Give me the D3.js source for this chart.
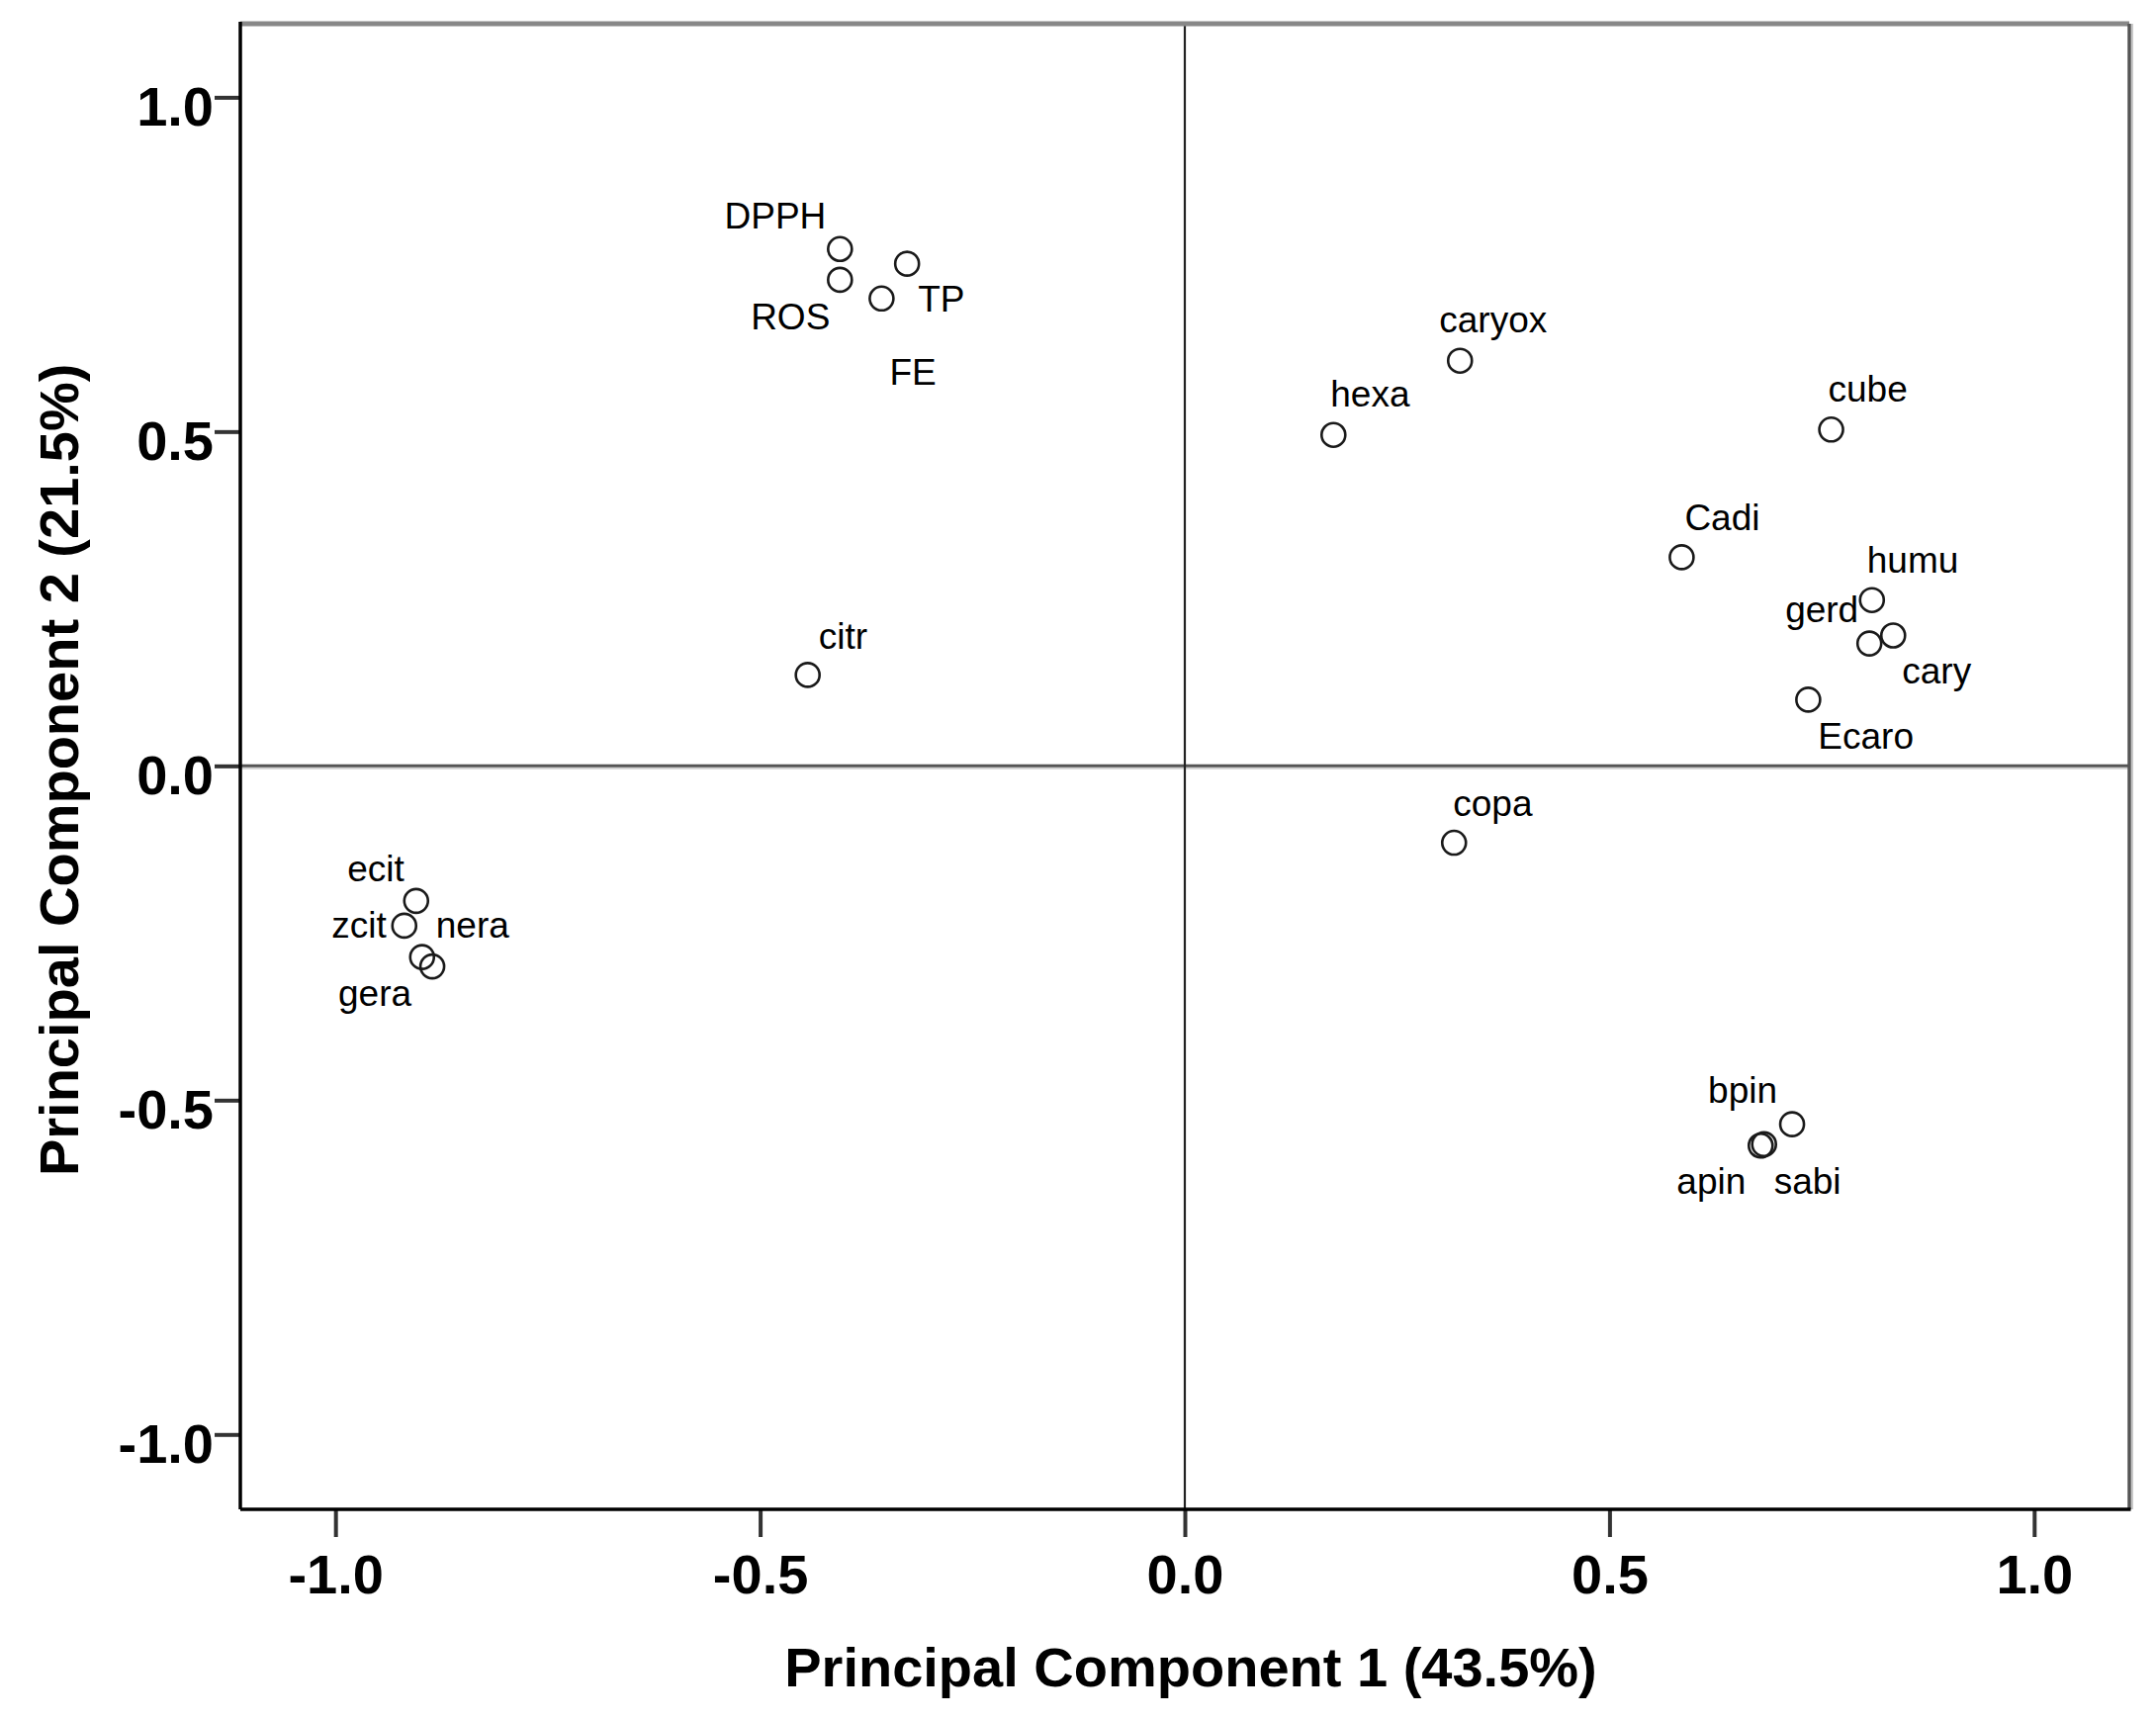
<!DOCTYPE html>
<html>
<head>
<meta charset="utf-8">
<script src="https://cdn.jsdelivr.net/npm/d3@7"></script>
<style>
  html, body { margin: 0; padding: 0; background: #fff; }
  svg { display: block; }
</style>
</head>
<body>
<div id="chart"></div>
<script>
// loadings
const variables = ["DPPH", "ROS", "TP", "FE", "citr", "ecit", "zcit", "nera", "gera",
  "caryox", "hexa", "cube", "Cadi", "humu", "gerd", "cary", "Ecaro", "copa", "bpin", "apin", "sabi"];
const pc1 = [-0.406, -0.406, -0.327, -0.357, -0.444, -0.905, -0.919, -0.898, -0.886,
  0.324, 0.175, 0.761, 0.585, 0.809, 0.806, 0.834, 0.734, 0.317, 0.715, 0.678, 0.682];
const pc2 = [0.773, 0.727, 0.751, 0.699, 0.136, -0.202, -0.239, -0.286, -0.300,
  0.606, 0.495, 0.503, 0.312, 0.248, 0.183, 0.195, 0.099, -0.115, -0.536, -0.568, -0.566];
const xTicks = [-1.0, -0.5, 0.0, 0.5, 1.0];
const yTicks = [-1.0, -0.5, 0.0, 0.5, 1.0];
const xTitle = "Principal Component 1 (43.5%)";
const yTitle = "Principal Component 2 (21.5%)";

// where each label sits relative to its point (anchor, dx, dy in px)
const labelPlacement = {
  DPPH: ["end", -14, -21], ROS: ["end", -10, 50], TP: ["start", 11, 48], FE: ["start", 8, 87],
  citr: ["start", 11, -26], ecit: ["end", -12, -20], zcit: ["end", -18, 12], nera: ["start", 14, -20],
  gera: ["end", -21, 40], caryox: ["start", -21, -29], hexa: ["start", -3, -29], cube: ["start", -3, -28],
  Cadi: ["start", 3, -27], humu: ["start", -5, -28], gerd: ["end", -11, -22], cary: ["start", 9, 48],
  Ecaro: ["start", 10, 50], copa: ["start", -1, -27], bpin: ["end", -15, -22], apin: ["end", -15, 49],
  sabi: ["start", 10, 50]
};

const W = 2180, H = 1739;
const plotLeft = 243, plotRight = 2153, plotTop = 24, plotBottom = 1526;
const font = "'Liberation Sans', Arial, sans-serif";

const svg = d3.select("#chart").append("svg")
  .attr("width", W)
  .attr("height", H)
  .style("background", "#fff");

const x = d3.scaleLinear().domain([-1.112, 1.112]).range([plotLeft, plotRight]);
const y = d3.scaleLinear().domain([-1.112, 1.11]).range([plotBottom, plotTop]);

const fmt = d => d.toFixed(1);

// axes
const xAxis = svg.append("g")
  .attr("transform", `translate(0,${plotBottom})`)
  .call(d3.axisBottom(x).tickValues(xTicks).tickFormat(fmt).tickSize(28).tickPadding(17));

const yAxis = svg.append("g")
  .attr("transform", `translate(${plotLeft},0)`)
  .call(d3.axisLeft(y).tickValues(yTicks).tickFormat(fmt).tickSize(26).tickPadding(1));

[xAxis, yAxis].forEach(g => {
  g.select(".domain").remove();
  g.selectAll(".tick line").attr("stroke", "#333").attr("stroke-width", 4);
  g.selectAll(".tick text")
    .attr("fill", "#000")
    .style("font-family", font)
    .style("font-weight", "bold")
    .style("font-size", "56px");
});
yAxis.selectAll(".tick text").attr("dy", 28);

// reference lines through the origin
svg.append("line")
  .attr("x1", plotLeft).attr("x2", plotRight)
  .attr("y1", y(0) + 2.5).attr("y2", y(0) + 2.5)
  .attr("stroke", "#cfcfcf").attr("stroke-width", 2);
svg.append("line")
  .attr("x1", plotLeft).attr("x2", plotRight)
  .attr("y1", y(0)).attr("y2", y(0))
  .attr("stroke", "#555").attr("stroke-width", 3);
svg.append("line")
  .attr("x1", x(0)).attr("x2", x(0))
  .attr("y1", plotTop).attr("y2", plotBottom)
  .attr("stroke", "#222").attr("stroke-width", 2.2);

// frame: dark left/bottom, grey top/right
svg.append("line")
  .attr("x1", plotLeft).attr("x2", plotRight).attr("y1", plotTop).attr("y2", plotTop)
  .attr("stroke", "#888").attr("stroke-width", 5);
svg.append("line")
  .attr("x1", plotRight).attr("x2", plotRight).attr("y1", plotTop).attr("y2", plotBottom)
  .attr("stroke", "#555").attr("stroke-width", 3.5);
svg.append("line")
  .attr("x1", plotRight + 3).attr("x2", plotRight + 3).attr("y1", plotTop).attr("y2", plotBottom)
  .attr("stroke", "#c8c8c8").attr("stroke-width", 2);
svg.append("line")
  .attr("x1", plotLeft).attr("x2", plotLeft).attr("y1", plotTop - 2).attr("y2", plotBottom)
  .attr("stroke", "#000").attr("stroke-width", 3.5);
svg.append("line")
  .attr("x1", plotLeft).attr("x2", plotRight + 1.5).attr("y1", plotBottom).attr("y2", plotBottom)
  .attr("stroke", "#000").attr("stroke-width", 3.5);

// points
const pts = variables.map((name, i) => ({ name, pc1: pc1[i], pc2: pc2[i] }));

svg.append("g").selectAll("circle")
  .data(pts)
  .enter().append("circle")
  .attr("cx", d => x(d.pc1))
  .attr("cy", d => y(d.pc2))
  .attr("r", 12)
  .attr("fill", "none")
  .attr("stroke", "#1a1a1a")
  .attr("stroke-width", 2.6);

svg.append("g").selectAll("text")
  .data(pts)
  .enter().append("text")
  .attr("x", d => x(d.pc1) + labelPlacement[d.name][1])
  .attr("y", d => y(d.pc2) + labelPlacement[d.name][2])
  .attr("text-anchor", d => labelPlacement[d.name][0])
  .style("font-family", font)
  .style("font-size", "37px")
  .attr("fill", "#000")
  .text(d => d.name);

// axis titles
svg.append("text")
  .attr("x", (plotLeft + plotRight) / 2 + 6)
  .attr("y", 1705)
  .attr("text-anchor", "middle")
  .style("font-family", font)
  .style("font-weight", "bold")
  .style("font-size", "56px")
  .text(xTitle);

svg.append("text")
  .attr("transform", `translate(79,${y(0) + 4}) rotate(-90)`)
  .attr("text-anchor", "middle")
  .style("font-family", font)
  .style("font-weight", "bold")
  .style("font-size", "56px")
  .text(yTitle);
</script>
</body>
</html>
